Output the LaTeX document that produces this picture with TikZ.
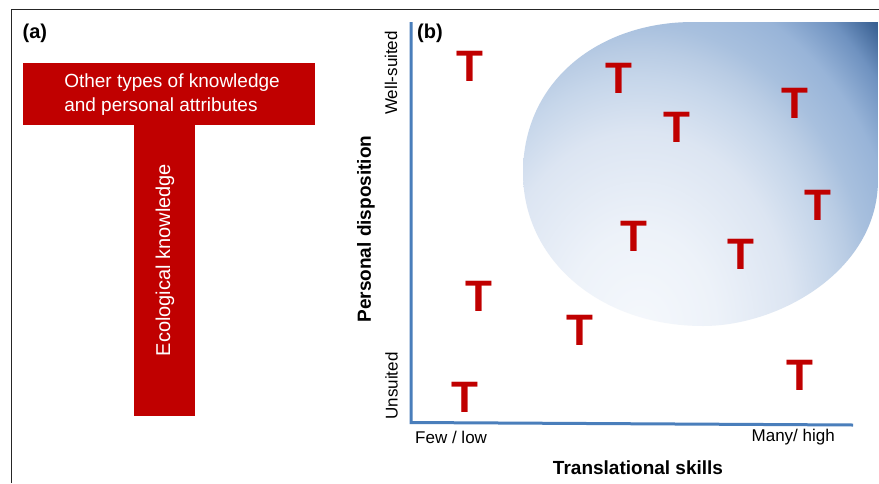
\documentclass[tikz,border=0pt]{standalone}
\usepackage{fontspec}
\setmainfont{Liberation Sans}
\definecolor{tred}{HTML}{C00000}
\definecolor{axblue}{HTML}{4A7EBB}
\definecolor{frameg}{HTML}{262626}
\definecolor{shA}{HTML}{F5F8FC}
\definecolor{shB}{HTML}{EDF2F9}
\definecolor{shC}{HTML}{DCE5F2}
\definecolor{shD}{HTML}{C6D6EA}
\definecolor{shE}{HTML}{B9CCE4}
\definecolor{shF}{HTML}{A8C0DE}
\definecolor{shG}{HTML}{98B4D8}
\definecolor{shH}{HTML}{6F92C0}
\definecolor{shI}{HTML}{3B6294}
\definecolor{shJ}{HTML}{335A8C}
\pgfdeclareradialshading{blobshade}{\pgfpoint{0bp}{0bp}}{%
  color(0bp)=(shA);
  color(5.5bp)=(shB);
  color(11bp)=(shC);
  color(14bp)=(shD);
  color(15.5bp)=(shE);
  color(17bp)=(shF);
  color(19.5bp)=(shG);
  color(22bp)=(shH);
  color(24bp)=(shI);
  color(25bp)=(shJ);
  color(50bp)=(shJ)}
\begin{document}
\begin{tikzpicture}[x=1pt,y=-1pt,
  tee/.style={font=\bfseries\fontsize{44}{44}\selectfont, text=tred, inner sep=0pt},
  redbar/.style={fill=tred, draw=none, inner sep=0pt},
  axis/.style={draw=axblue, line width=3pt, line cap=butt, line join=miter},
  frameline/.style={draw=frameg, line width=1.6pt},
  small/.style={font=\fontsize{17}{20}\selectfont, inner sep=0pt},
  boldlab/.style={font=\bfseries\fontsize{19}{22}\selectfont, inner sep=0pt},
  panellab/.style={font=\bfseries\fontsize{20}{22}\selectfont, inner sep=0pt, anchor=west}]
\useasboundingbox[fill=white] (0,0) rectangle (879,483);
% frame
\coordinate (fbl) at (11.5,483);
\coordinate (ftl) at (11.5,9.5);
\coordinate (ftr) at (879,9.5);
\draw[frameline] (fbl) -- (ftl) -- (ftr);
% panel (a)
\node[panellab] (la) at (22.5,33) {(a)};
\node[redbar, minimum width=292pt, minimum height=62pt] (bar) at (169,94) {};
\node[redbar, minimum width=61pt, minimum height=291pt, anchor=north] (stem) at (164.5,124.5) {};
\node[text=white, align=left, inner sep=0pt, font=\fontsize{19}{24}\selectfont] (bartext) at (172,95)
  {Other types of knowledge\\and personal attributes};
\node[text=white, rotate=90, inner sep=0pt, font=\fontsize{20}{24}\selectfont] (stemtext) at (165,260) {Ecological knowledge};
% panel (b) blob
\begin{scope}
\clip (693,22) -- (878,22) -- (878,180)
  .. controls (878,270) and (780,326) .. (703,326)
  .. controls (600,326) and (523,260) .. (523,173)
  .. controls (523,80) and (600,22) .. (693,22) -- cycle;
\shade[shading=blobshade] (294,-120) rectangle (986,780);
\end{scope}
% axes
\coordinate (ytop) at (411,22);
\coordinate (orig) at (411,422.5);
\coordinate (xend) at (853,425);
\draw[axis] (ytop) -- (orig) -- (xend);
\node[panellab] (lb) at (417,33) {(b)};
% axis labels
\node[small, rotate=90] (well) at (391,73) {Well-suited};
\node[small, rotate=90] (uns) at (391.5,386) {Unsuited};
\node[boldlab, rotate=90] (pd) at (366,229) {Personal disposition};
\node[small, anchor=west] (few) at (415,437) {Few / low};
\node[small, anchor=east] (many) at (835,437) {Many/ high};
\node[boldlab] (ts) at (638,468) {Translational skills};
% Ts
\node[tee] (t1) at (469.5,66.5) {T};
\node[tee] (t2) at (619,78) {T};
\node[tee] (t3) at (677,127) {T};
\node[tee] (t4) at (794.5,103) {T};
\node[tee] (t5) at (818,205) {T};
\node[tee] (t6) at (634,236) {T};
\node[tee] (t7) at (740.5,254.5) {T};
\node[tee] (t8) at (478.5,296) {T};
\node[tee] (t9) at (580,330.5) {T};
\node[tee] (t10) at (799.5,375) {T};
\node[tee] (t11) at (464.5,397) {T};
\end{tikzpicture}
\end{document}
